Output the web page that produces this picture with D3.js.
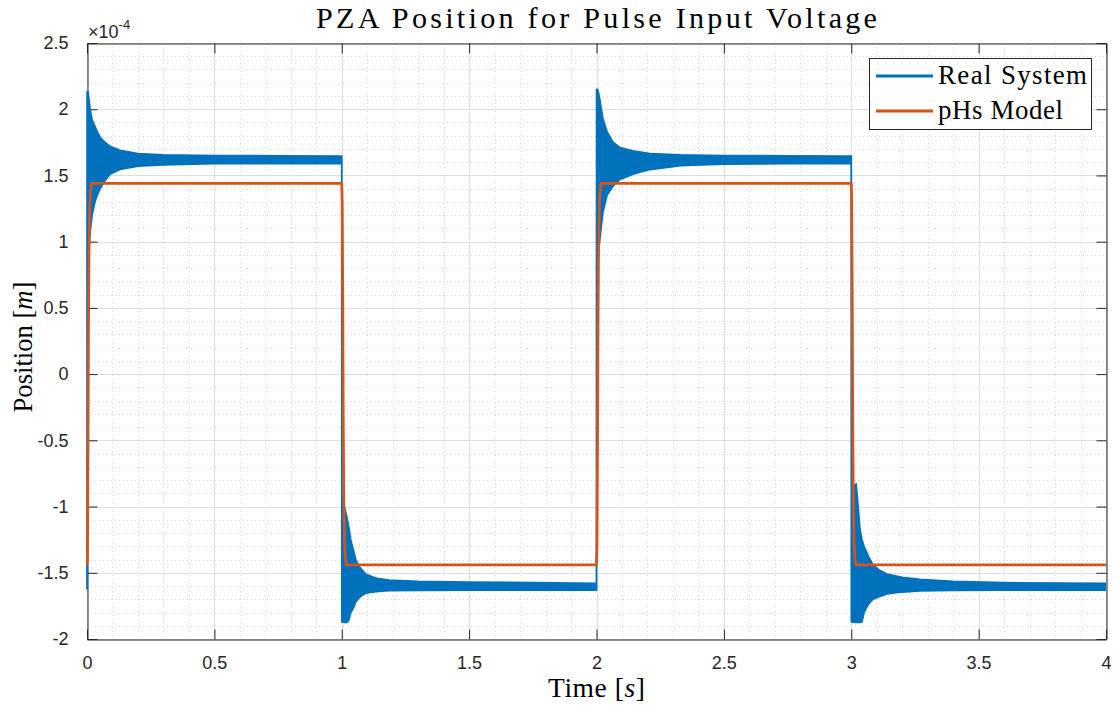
<!DOCTYPE html>
<html>
<head>
<meta charset="utf-8">
<script src="https://cdn.jsdelivr.net/npm/d3@7"></script>
<style>
  html, body { margin: 0; padding: 0; background: #ffffff; }
  svg { display: block; }
</style>
</head>
<body>
<svg id="chart" width="1117" height="706"></svg>
<script>
// ---------------- DATA (position values in units of 1e-4 m) ----------------
const xTicks = [0, 0.5, 1, 1.5, 2, 2.5, 3, 3.5, 4];
const xTickLabels = ["0", "0.5", "1", "1.5", "2", "2.5", "3", "3.5", "4"];
const yTicks = [-2, -1.5, -1, -0.5, 0, 0.5, 1, 1.5, 2, 2.5];
const yTickLabels = ["-2", "-1.5", "-1", "-0.5", "0", "0.5", "1", "1.5", "2", "2.5"];

// Real System: fast oscillation drawn as its envelope (upper / lower)
const realTime = [
  0, 0.0005, 0.004, 0.008, 0.012, 0.02, 0.031, 0.04, 0.051, 0.07, 0.09, 0.13, 0.2, 0.3, 0.5, 0.75, 1.0,
  1.0005, 1.01, 1.02, 1.027, 1.035, 1.047, 1.055, 1.067, 1.08, 1.094, 1.12, 1.145, 1.185, 1.3, 1.5, 1.75, 2.0,
  2.0005, 2.004, 2.008, 2.014, 2.025, 2.041, 2.065, 2.092, 2.143, 2.21, 2.33, 2.5, 2.75, 3.0,
  3.0005, 3.019, 3.027, 3.034, 3.042, 3.05, 3.066, 3.085, 3.11, 3.14, 3.2, 3.27, 3.4, 3.6, 4.0
];
const realUpper = [
  -1.62, 2.13, 2.13, 2.07, 2.00, 1.92, 1.87, 1.83, 1.79, 1.75, 1.72, 1.69, 1.665, 1.655, 1.65, 1.648, 1.645,
  -0.92, -1.00, -1.08, -1.15, -1.25, -1.34, -1.40, -1.45, -1.48, -1.51, -1.53, -1.545, -1.555, -1.565, -1.57, -1.575, -1.58,
  2.15, 2.15, 2.12, 2.06, 1.93, 1.83, 1.75, 1.71, 1.685, 1.665, 1.655, 1.65, 1.648, 1.645,
  -0.85, -0.83, -1.00, -1.17, -1.25, -1.30, -1.37, -1.44, -1.48, -1.51, -1.535, -1.55, -1.565, -1.575, -1.58
];
const realLower = [
  -1.62, 0.84, 0.88, 0.98, 1.07, 1.20, 1.30, 1.35, 1.40, 1.46, 1.51, 1.545, 1.57, 1.58, 1.59, 1.59, 1.59,
  -1.87, -1.875, -1.875, -1.86, -1.80, -1.76, -1.72, -1.69, -1.67, -1.655, -1.645, -1.64, -1.635, -1.633, -1.63, -1.63, -1.63,
  0.84, 0.86, 0.92, 1.04, 1.22, 1.35, 1.42, 1.47, 1.51, 1.545, 1.575, 1.585, 1.59, 1.59,
  -1.87, -1.875, -1.875, -1.875, -1.87, -1.80, -1.74, -1.70, -1.68, -1.66, -1.645, -1.637, -1.633, -1.63, -1.63
];

// pHs Model
const pHsTime = [
  0, 0.002, 0.004, 0.006, 0.008, 0.011, 0.014, 0.018,
  1.0, 1.002, 1.004, 1.006, 1.008, 1.011, 1.014, 1.018,
  2.0, 2.002, 2.004, 2.006, 2.008, 2.011, 2.014, 2.018,
  3.0, 3.002, 3.004, 3.006, 3.008, 3.011, 3.014, 3.018,
  4.0
];
const pHsValue = [
  -1.44, -1.30, -0.58, 0.35, 0.92, 1.27, 1.38, 1.44,
  1.44, 1.30, 0.58, -0.35, -0.92, -1.27, -1.38, -1.44,
  -1.44, -1.30, -0.58, 0.35, 0.92, 1.27, 1.38, 1.44,
  1.44, 1.30, 0.58, -0.35, -0.92, -1.27, -1.38, -1.44,
  -1.44
];

const seriesNames = ["Real System", "pHs Model"];
const seriesColors = ["#0072BD", "#D95319"];
const titleText = "PZA Position for Pulse Input Voltage";

// ---------------- LAYOUT ----------------
const L = 87, R = 1106, T = 43, B = 639;
const svg = d3.select("#chart");
const x = d3.scaleLinear().domain([0, 4]).range([L, R]);
const y = d3.scaleLinear().domain([-2, 2.5]).range([B, T]);
const axisColor = "#262626";
const sans = "'Liberation Sans', Arial, Helvetica, sans-serif";
const serif = "'Liberation Serif', 'Times New Roman', serif";

svg.append("rect").attr("width", 1117).attr("height", 706).attr("fill", "#fff");
svg.append("defs").append("clipPath").attr("id", "plotclip")
  .append("rect").attr("x", L - 1).attr("y", T).attr("width", R - L + 1).attr("height", B - T);

// minor grid (dotted)
const xMinor = d3.range(0, 4.0001, 0.1).map(v => +v.toFixed(2)).filter(v => Math.abs(v * 2 - Math.round(v * 2)) > 1e-6);
const yMinor = d3.range(-2, 2.5001, 0.1).map(v => +v.toFixed(2)).filter(v => Math.abs(v * 2 - Math.round(v * 2)) > 1e-6);
const grid = svg.append("g");
grid.selectAll("line.xm").data(xMinor).join("line")
  .attr("x1", d => Math.round(x(d)) + 0.5).attr("x2", d => Math.round(x(d)) + 0.5)
  .attr("y1", T).attr("y2", B)
  .attr("stroke", "#d4d4d4").attr("stroke-width", 1).attr("stroke-dasharray", "1,3");
grid.selectAll("line.ym").data(yMinor).join("line")
  .attr("y1", d => Math.round(y(d)) + 0.5).attr("y2", d => Math.round(y(d)) + 0.5)
  .attr("x1", L).attr("x2", R)
  .attr("stroke", "#d4d4d4").attr("stroke-width", 1).attr("stroke-dasharray", "1,3");
// major grid
grid.selectAll("line.xM").data(xTicks).join("line")
  .attr("x1", d => Math.round(x(d)) + 0.5).attr("x2", d => Math.round(x(d)) + 0.5)
  .attr("y1", T).attr("y2", B).attr("stroke", "#dedede").attr("stroke-width", 1.2);
grid.selectAll("line.yM").data(yTicks).join("line")
  .attr("y1", d => Math.round(y(d)) + 0.5).attr("y2", d => Math.round(y(d)) + 0.5)
  .attr("x1", L).attr("x2", R).attr("stroke", "#dedede").attr("stroke-width", 1.2);

// axes with inward ticks on all four sides
const tickLen = 10;
const axB = svg.append("g").attr("transform", `translate(0,${B + 0.5})`)
  .call(d3.axisBottom(x).tickValues(xTicks).tickFormat((d, i) => xTickLabels[i]).tickSizeInner(-tickLen).tickSizeOuter(0).tickPadding(17));
const axT = svg.append("g").attr("transform", `translate(0,${T + 0.5})`)
  .call(d3.axisTop(x).tickValues(xTicks).tickFormat("").tickSizeInner(-tickLen).tickSizeOuter(0));
const axL = svg.append("g").attr("transform", `translate(${L + 0.5},0)`)
  .call(d3.axisLeft(y).tickValues(yTicks).tickFormat((d, i) => yTickLabels[i]).tickSizeInner(-tickLen).tickSizeOuter(0).tickPadding(19));
const axR = svg.append("g").attr("transform", `translate(${R + 0.5},0)`)
  .call(d3.axisRight(y).tickValues(yTicks).tickFormat("").tickSizeInner(-tickLen).tickSizeOuter(0));
[axB, axT, axL, axR].forEach(a => {
  a.select(".domain").attr("stroke", axisColor).attr("stroke-width", 1);
  a.selectAll(".tick line").attr("stroke", axisColor).attr("stroke-width", 1);
  a.selectAll(".tick text").attr("fill", axisColor).attr("font-family", sans).attr("font-size", 18);
});
axB.selectAll(".tick text").attr("dy", "0.71em");

// data
const realData = realTime.map((t, i) => ({ t, hi: realUpper[i], lo: realLower[i] }));
const pHsData = pHsTime.map((t, i) => ({ t, v: pHsValue[i] }));
const plot = svg.append("g").attr("clip-path", "url(#plotclip)");
plot.append("path").datum(realData)
  .attr("d", d3.area().x(d => x(d.t)).y0(d => y(d.lo)).y1(d => y(d.hi)))
  .attr("fill", seriesColors[0]).attr("stroke", seriesColors[0]).attr("stroke-width", 1.8)
  .attr("stroke-linejoin", "round");
plot.append("path").datum(pHsData)
  .attr("d", d3.line().x(d => x(d.t)).y(d => y(d.v)))
  .attr("fill", "none").attr("stroke", seriesColors[1]).attr("stroke-width", 2.7)
  .attr("stroke-linejoin", "round");

// exponent label
const expo = svg.append("text").attr("x", 88).attr("y", 38)
  .attr("font-family", sans).attr("font-size", 18).attr("fill", axisColor);
expo.append("tspan").text("\u00d710");
expo.append("tspan").attr("font-size", 13).attr("dy", -9).text("-4");

// text fitting: grow font a little, then spread to the target width
function fitText(sel, w, fs, maxGrow) {
  let n = sel.node().getComputedTextLength();
  const nf = Math.min(fs * maxGrow, fs * w / n);
  sel.attr("font-size", nf);
  n = sel.node().getComputedTextLength();
  if (n < w) sel.attr("textLength", w).attr("lengthAdjust", "spacing");
}
const title = svg.append("text").attr("x", (L + R) / 2).attr("y", 28)
  .attr("text-anchor", "middle").attr("font-family", serif).attr("font-size", 29).attr("fill", "#000")
  .text(titleText);
fitText(title, 561, 29, 1.04);

// axis labels
const xl = svg.append("text").attr("x", (L + R) / 2).attr("y", 697)
  .attr("text-anchor", "middle").attr("font-family", serif).attr("font-size", 25).attr("fill", "#000");
xl.append("tspan").text("Time [");
xl.append("tspan").attr("font-style", "italic").text("s");
xl.append("tspan").text("]");
fitText(xl, 97, 25, 1.1);

const yl = svg.append("text").attr("transform", `translate(32,347) rotate(-90)`)
  .attr("text-anchor", "middle").attr("font-family", serif).attr("font-size", 25).attr("fill", "#000");
yl.append("tspan").text("Position [");
yl.append("tspan").attr("font-style", "italic").text("m");
yl.append("tspan").text("]");
fitText(yl, 131, 25, 1.1);

// legend
const lg = svg.append("g");
lg.append("rect").attr("x", 869.5).attr("y", 58.5).attr("width", 222).attr("height", 71)
  .attr("fill", "#fff").attr("stroke", axisColor).attr("stroke-width", 1);
const legY = [76, 111];
const legW = [149, 125];
seriesNames.forEach((name, i) => {
  lg.append("line").attr("x1", 876).attr("x2", 933).attr("y1", legY[i]).attr("y2", legY[i])
    .attr("stroke", seriesColors[i]).attr("stroke-width", 2.8);
  const t = lg.append("text").attr("x", 938).attr("y", legY[i] + 8)
    .attr("font-family", serif).attr("font-size", 24).attr("fill", "#000").text(name);
  fitText(t, legW[i], 24, 1.12);
});
</script>
</body>
</html>
